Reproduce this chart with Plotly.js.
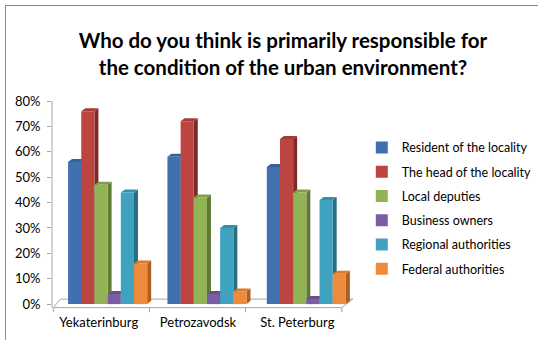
<!DOCTYPE html>
<html>
<head>
<meta charset="utf-8">
<script src="https://cdn.plot.ly/plotly-3.0.1.min.js"></script>
<style>
  html, body { margin: 0; padding: 0; background: #fff; }
  #frame { position: absolute; left: 5px; top: 5px; width: 560px; height: 360px; border: 1px solid #8a8a8a; }
  #chart { position: absolute; left: 0; top: 0; width: 538px; height: 340px; }
</style>
</head>
<body>
<div id="frame"></div>
<div id="chart"></div>
<script>
// ---- data ----
const categories = ['Yekaterinburg', 'Petrozavodsk', 'St. Peterburg'];
const seriesNames = ['Resident of the locality', 'The head of the locality', 'Local deputies',
                     'Business owners', 'Regional authorities', 'Federal authorities'];
const resident   = [0.56, 0.58, 0.54];
const headLocal  = [0.76, 0.72, 0.65];
const deputies   = [0.47, 0.42, 0.44];
const business   = [0.04, 0.04, 0.02];
const regional   = [0.44, 0.30, 0.41];
const federal    = [0.16, 0.05, 0.12];
const yTicks     = [0, 0.1, 0.2, 0.3, 0.4, 0.5, 0.6, 0.7, 0.8];
const yTickText  = ['0%', '10%', '20%', '30%', '40%', '50%', '60%', '70%', '80%'];

// ---- styling ----
const series = [resident, headLocal, deputies, business, regional, federal];
const frontCol = ['#4070AE', '#BC4441', '#92B255', '#7B5DA3', '#3FA2BF', '#EE8A3C'];
const sideCol  = ['#2B4C77', '#7E2A29', '#5E7A33', '#4F3A70', '#286F84', '#AE5E1F'];
const topCol   = ['#35609A', '#A63A37', '#7F9E47', '#6A4F90', '#3690A9', '#D97A32'];
const barW = 0.1327;
const groupStart = -3 * barW;
const dx = 0.04, dy = 0.0118;
const xIdx = categories.map((c, i) => i);

const traces = series.map((vals, s) => ({
  type: 'bar',
  name: seriesNames[s],
  x: xIdx,
  y: vals,
  width: barW,
  offset: groupStart + s * barW,
  marker: { color: frontCol[s], line: { width: 0 } },
  legendgroup: 'g' + s,
  hoverinfo: 'y+name'
}));

const shapes = [];
// floor
const fl = { fx0: -0.547, fx1: 2.357, bx0: -0.476, bx1: 2.468, fy: -0.0138, by: 0.0197 };
shapes.push({
  type: 'path', xref: 'x', yref: 'y', layer: 'below',
  path: `M${fl.fx0},${fl.fy} L${fl.fx1},${fl.fy} L${fl.bx1},${fl.by} L${fl.bx0},${fl.by} Z`,
  fillcolor: '#ffffff', line: { color: '#a6a6a6', width: 1 }
});
// floor ticks at category boundaries
const catW = (fl.fx1 - fl.fx0) / categories.length;
for (let k = 0; k <= categories.length; k++) {
  const xt = fl.fx0 + k * catW;
  shapes.push({ type: 'line', xref: 'x', yref: 'y', layer: 'below',
    x0: xt, x1: xt, y0: fl.fy, y1: fl.fy - 0.018, line: { color: '#a6a6a6', width: 1 } });
}
// y axis line
shapes.push({ type: 'line', xref: 'paper', yref: 'y', x0: 0, x1: 0, y0: fl.fy, y1: 0.8,
  line: { color: '#a6a6a6', width: 1 }, layer: 'below' });

// 3D faces
series.forEach((vals, s) => {
  vals.forEach((v, g) => {
    const xl = g + groupStart + s * barW;
    const xr = xl + barW;
    shapes.push({ type: 'path', xref: 'x', yref: 'y', layer: 'below',
      path: `M${xr},0 L${xr + dx},${dy} L${xr + dx},${v + dy} L${xr},${v} Z`,
      fillcolor: sideCol[s], line: { width: 0 } });
    shapes.push({ type: 'path', xref: 'x', yref: 'y', layer: 'below',
      path: `M${xl},${v} L${xl + dx},${v + dy} L${xr + dx},${v + dy} L${xr},${v} Z`,
      fillcolor: topCol[s], line: { width: 0 } });
  });
});

const layout = {
  width: 538, height: 340, autosize: false,
  paper_bgcolor: 'rgba(0,0,0,0)', plot_bgcolor: 'rgba(0,0,0,0)',
  margin: { l: 51.7, r: 179.8, t: 100.8, b: 27.1, pad: 0, autoexpand: false },
  font: { family: 'Lato, "Open Sans", sans-serif', color: '#000' },
  title: {
    text: '<b>Who do you think is primarily responsible for<br>the condition of the urban environment?</b>',
    font: { family: 'Lato, "Open Sans", sans-serif', size: 20.5, color: '#000' },
    x: 0.526, xanchor: 'center', xref: 'container',
    y: 1 - 48 / 340, yanchor: 'top', yref: 'container'
  },
  barmode: 'overlay',
  xaxis: {
    range: [-0.56, 2.52], tickvals: xIdx, ticktext: categories,
    showgrid: false, zeroline: false, showline: false, ticks: '',
    ticklabelshift: -9, tickfont: { size: 13, color: '#000' }, automargin: false
  },
  yaxis: {
    range: [-0.035, 0.8], tickvals: yTicks, ticktext: yTickText,
    showgrid: false, zeroline: false, showline: false,
    ticks: 'outside', ticklen: 4, tickcolor: '#a6a6a6',
    tickfont: { size: 13, color: '#000' }, ticklabelstandoff: 4, automargin: false
  },
  showlegend: true,
  legend: {
    x: 1.0124, xanchor: 'left', y: 0.85, yanchor: 'top',
    font: { size: 12.5, color: '#000' }, tracegroupgap: 5,
    bgcolor: 'rgba(0,0,0,0)', itemclick: false
  },
  shapes: shapes
};

Plotly.newPlot('chart', traces, layout, { displayModeBar: false, staticPlot: true });
</script>
</body>
</html>
